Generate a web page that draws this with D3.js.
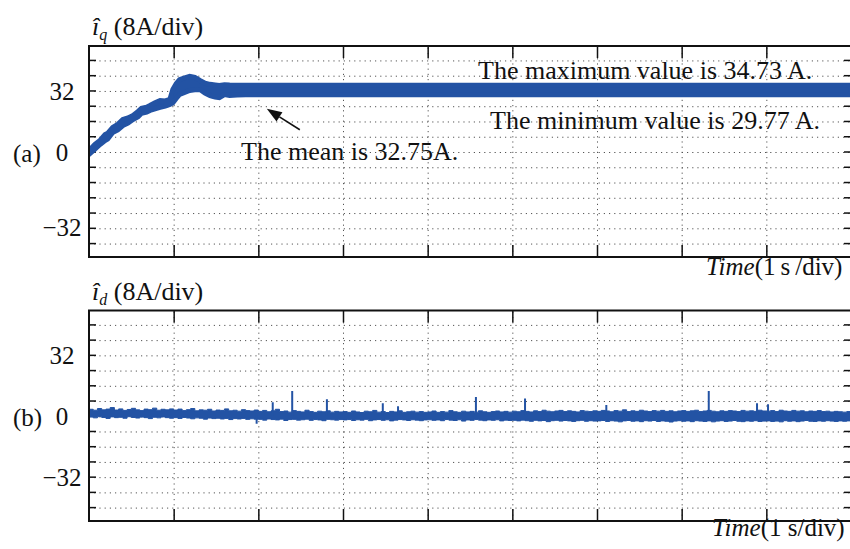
<!DOCTYPE html>
<html>
<head>
<meta charset="utf-8">
<script src="https://cdn.jsdelivr.net/npm/d3@7/dist/d3.min.js"></script>
<style>
  html, body { margin: 0; padding: 0; background: #fff; }
  svg { display: block; }
  text { font-family: "Liberation Serif", "Times New Roman", serif; fill: #111; }
</style>
</head>
<body>
<svg id="chart" width="850" height="549"></svg>
<script>
// ---- data -------------------------------------------------------------
// time axis (s), one division per second
const timeTicks = [0, 1, 2, 3, 4, 5, 6, 7, 8, 9];
// y tick labels (A) and dotted grid levels (8 A/div)
const yTickLabels = [32, 0, -32];
const gridLevels = [-48, -40, -32, -24, -16, -8, 0, 8, 16, 24, 32, 40, 48];

// q-axis current: start-up envelope (A)
const iqTime  = [0, 0.07, 0.13, 0.19, 0.22, 0.28, 0.34, 0.40, 0.46, 0.52, 0.58, 0.62, 0.68, 0.72, 0.78, 0.84, 0.90, 0.955, 0.99, 1.03, 1.07, 1.13, 1.19, 1.25, 1.31, 1.37, 1.43, 1.49, 1.54, 1.60, 1.66, 1.75, 1.85];
const iqUpper = [0.5, 3.7, 5.8, 8.9, 9.5, 12.6, 14.2, 16.8, 17.6, 18.9, 21.0, 22.6, 23.2, 24.1, 25.6, 26.7, 26.5, 27.3, 32.5, 35.5, 37.7, 38.6, 39.4, 38.9, 37.3, 35.8, 35.2, 34.9, 34.6, 35.0, 34.8, 34.7, 34.73];
const iqLower = [-1.5, 1.3, 3.7, 5.8, 6.5, 10.0, 11.3, 13.6, 14.9, 16.8, 18.2, 20.0, 20.6, 21.5, 22.4, 23.1, 23.8, 24.6, 25.5, 27.8, 29.9, 31.0, 32.0, 32.3, 32.5, 30.6, 29.3, 28.6, 28.2, 29.8, 29.4, 29.6, 29.77];
// steady-state statistics (A)
const iqMax = 34.73;
const iqMin = 29.77;
const iqMean = 32.75;

// d-axis current: noise envelope sampled every 0.05 s (A), one row per second
const idStep = 0.05;
const idUpper = [
  3.4, 2.9, 3.8, 3.1, 3.5, 4.3, 3.0, 3.6, 2.8, 3.3, 3.9, 3.1, 2.7, 3.5, 3.2, 4.0, 2.9, 3.4, 3.1, 3.6,
  3.0, 3.5, 2.7, 3.2, 3.8, 2.6, 3.1, 2.9, 3.4, 2.5, 3.0, 2.8, 3.6, 2.6, 2.9, 2.4, 3.2, 2.7, 2.5, 3.0,
  2.3, 2.8, 2.1, 2.6, 3.4, 2.2, 2.5, 1.9, 2.7, 2.3, 2.0, 2.9, 2.2, 1.8, 2.4, 2.1, 2.6, 1.9, 2.3, 2.0,
  2.2, 1.8, 2.5, 2.0, 1.7, 2.4, 2.1, 2.8, 1.9, 2.2, 1.7, 2.3, 2.0, 2.6, 1.8, 2.1, 2.4, 1.9, 2.2, 1.8,
  2.0, 2.5, 1.8, 2.2, 1.9, 2.7, 2.1, 1.8, 2.4, 2.0, 2.3, 1.9, 2.6, 2.1, 1.8, 2.2, 2.5, 2.0, 2.3, 1.9,
  2.4, 2.1, 2.7, 2.3, 2.0, 2.6, 2.2, 2.9, 2.4, 2.1, 2.5, 2.8, 2.2, 2.6, 2.3, 2.0, 2.7, 2.4, 2.2, 2.6,
  2.3, 2.8, 2.5, 2.1, 2.7, 2.4, 3.1, 2.2, 2.6, 2.3, 2.9, 2.5, 2.2, 2.7, 2.4, 2.8, 2.3, 2.6, 2.1, 2.5,
  2.7, 2.3, 2.6, 2.9, 2.2, 2.5, 2.8, 2.4, 2.1, 2.6, 2.3, 2.7, 2.5, 2.2, 2.8, 2.4, 2.6, 2.3, 2.9, 2.5,
  2.4, 2.7, 2.2, 2.9, 2.5, 2.3, 2.8, 2.4, 2.6, 2.1, 2.5, 2.3, 2.7, 2.2, 2.4, 2.0, 2.3, 2.1, 1.9, 2.2,
  2.0
];
const idLower = [
  -0.7, -1.1, -0.5, -0.9, -1.4, -0.6, -1.0, -0.8, -1.3, -0.5, -0.9, -1.2, -0.7, -1.0, -1.5, -0.8, -1.1, -0.6, -1.0, -1.3,
  -1.0, -1.4, -0.9, -1.2, -1.6, -1.1, -1.3, -1.8, -1.2, -1.5, -1.3, -1.7, -1.4, -2.0, -1.5, -1.7, -1.4, -1.9, -1.6, -1.8,
  -1.9, -2.3, -1.7, -2.0, -2.2, -1.8, -2.5, -2.0, -1.9, -2.3, -2.1, -1.8, -2.4, -2.0, -2.2, -2.6, -1.9, -2.1, -2.3, -2.0,
  -2.2, -2.0, -2.5, -2.1, -2.3, -1.9, -2.6, -2.2, -2.0, -2.4, -2.1, -2.7, -2.3, -2.0, -2.2, -2.5, -2.1, -2.3, -2.6, -2.2,
  -2.1, -2.4, -2.2, -2.6, -2.0, -2.3, -2.5, -2.1, -2.8, -2.2, -2.4, -2.0, -2.3, -2.6, -2.2, -2.4, -2.1, -2.7, -2.3, -2.5,
  -2.4, -2.7, -2.3, -2.6, -2.9, -2.4, -2.7, -2.5, -3.1, -2.6, -2.4, -2.8, -2.5, -2.7, -3.0, -2.6, -2.4, -2.9, -2.6, -2.8,
  -2.7, -2.5, -3.0, -2.6, -2.8, -3.2, -2.7, -2.5, -2.9, -2.7, -3.1, -2.6, -2.8, -2.5, -3.0, -2.7, -2.9, -3.3, -2.8, -2.6,
  -2.9, -2.7, -3.1, -2.6, -2.8, -3.0, -2.7, -3.2, -2.8, -2.6, -3.0, -2.8, -2.5, -2.9, -3.1, -2.7, -2.9, -2.6, -3.0, -2.8,
  -2.7, -3.0, -2.8, -3.2, -2.6, -2.9, -2.7, -3.1, -2.8, -2.5, -2.9, -3.0, -2.7, -2.9, -2.6, -2.8, -3.0, -2.7, -2.9, -2.7,
  -2.6
];
// isolated spikes on the d-axis current: time (s) and peak (A)
const idSpikeTime = [1.98, 2.17, 2.40, 2.81, 3.47, 3.65, 4.57, 5.15, 6.11, 7.32, 7.89, 8.02];
const idSpikePeak = [-4.2, 7.1, 13.0, 8.7, 6.6, 5.0, 9.8, 9.0, 5.6, 13.0, 6.6, 6.0];

// ---- layout -----------------------------------------------------------
const W = 850, H = 549;
const left = 89, right = 851;
const yHalf = 55.3;                 // half-range of each panel (A)
const trace = "#2353a4";
const fontSize = 25;

const svg = d3.select("#chart");
svg.append("rect").attr("width", W).attr("height", H).attr("fill", "#fff");

const x = d3.scaleLinear().domain([0, 9]).range([left, right]);

const panels = [
  { key: "a", top: 46,    bottom: 257, sub: "q", tag: "(a)", labelNudge: { [-32]: 14 }, timeY: 275, timeX: 706, timeText: "(1\u2009s\u2009/div)" },
  { key: "b", top: 310.5, bottom: 521, sub: "d", tag: "(b)", labelNudge: {},            timeY: 536, timeX: 712, timeText: "(1 s/div)" }
];

panels.forEach(p => {
  p.y = d3.scaleLinear().domain([-yHalf, yHalf]).range([p.bottom, p.top]);
  const g = svg.append("g").attr("class", "panel-" + p.key);
  p.g = g;

  const clipId = "clip-" + p.key;
  svg.append("clipPath").attr("id", clipId)
    .append("rect").attr("x", left).attr("y", p.top).attr("width", right - left).attr("height", p.bottom - p.top);
  p.clip = "url(#" + clipId + ")";

  // dotted horizontal grid
  const hGrid = g.append("g").attr("transform", `translate(${left},0)`)
    .call(d3.axisLeft(p.y).tickValues(gridLevels).tickSize(-(right - left)).tickFormat(""));
  hGrid.select(".domain").remove();
  hGrid.selectAll("line").attr("stroke", "#555").attr("stroke-width", 1)
    .attr("stroke-dasharray", "1.2,4").attr("transform", "translate(0,0.5)");

  // dotted vertical grid
  const vGrid = g.append("g").attr("transform", `translate(0,${p.bottom})`)
    .call(d3.axisBottom(x).tickValues(timeTicks.slice(1, -1)).tickSize(-(p.bottom - p.top)).tickFormat(""));
  vGrid.select(".domain").remove();
  vGrid.selectAll("line").attr("stroke", "#555").attr("stroke-width", 1)
    .attr("stroke-dasharray", "1.2,4");

  // inner tick marks on all four sides
  const tl = g.append("g").attr("transform", `translate(${left},0)`)
    .call(d3.axisLeft(p.y).tickValues(gridLevels).tickSize(-7).tickFormat(""));
  const tr = g.append("g").attr("transform", `translate(${right},0)`)
    .call(d3.axisRight(p.y).tickValues(gridLevels).tickSize(-7).tickFormat(""));
  const tt = g.append("g").attr("transform", `translate(0,${p.top})`)
    .call(d3.axisTop(x).tickValues(timeTicks.slice(1, -1)).tickSize(-12).tickFormat(""));
  const tb = g.append("g").attr("transform", `translate(0,${p.bottom})`)
    .call(d3.axisBottom(x).tickValues(timeTicks.slice(1, -1)).tickSize(-12).tickFormat(""));
  [tl, tr, tt, tb].forEach(a => {
    a.select(".domain").remove();
    a.selectAll("line").attr("stroke", "#111").attr("stroke-width", 1.5);
  });

  // y tick labels
  const yl = g.append("g").attr("transform", `translate(${left},0)`)
    .call(d3.axisLeft(p.y).tickValues(yTickLabels).tickSize(0).tickFormat(d3.format("d")));
  yl.select(".domain").remove();
  yl.selectAll("text")
    .attr("x", 62 - left)
    .attr("text-anchor", "middle")
    .attr("dy", "0.35em")
    .attr("transform", d => `translate(0,${p.labelNudge[d] || 0})`)
    .style("font-family", "'Liberation Serif', serif")
    .style("font-size", fontSize + "px")
    .attr("fill", "#111");

  // panel tag
  g.append("text").attr("x", 13).attr("y", p.y(0) + 1.5).attr("dy", "0.35em")
    .style("font-size", fontSize + "px").text(p.tag);

  // channel title  î_q / î_d (8A/div)
  const title = g.append("text").attr("x", 92).attr("y", p.top - 11).style("font-size", "26px");
  title.append("tspan").style("font-style", "italic").text("\u00ee");
  title.append("tspan").style("font-style", "italic").style("font-size", "16px").attr("dy", 5).text(p.sub);
  title.append("tspan").attr("dy", -5).text(" (8A/div)");

  // time label
  const tx = g.append("text").attr("x", p.timeX).attr("y", p.timeY).style("font-size", fontSize + "px");
  tx.append("tspan").style("font-style", "italic").text("Time");
  tx.append("tspan").text(p.timeText);
});

// ---- panel (a): q-axis current ---------------------------------------
{
  const p = panels[0];
  const rows = iqTime.map((t, i) => ({ t, hi: iqUpper[i], lo: iqLower[i] }));
  rows.push({ t: 9, hi: iqMax, lo: iqMin });
  const area = d3.area().x(d => x(d.t)).y0(d => p.y(d.lo)).y1(d => p.y(d.hi));
  p.g.append("path").datum(rows).attr("clip-path", p.clip)
    .attr("d", area).attr("fill", trace).attr("stroke", trace)
    .attr("stroke-width", 5).attr("stroke-linejoin", "miter");

  const ann = p.g.append("g").style("font-size", "26px");
  ann.append("text").attr("x", 478).attr("y", 79).text(`The maximum value is ${iqMax.toFixed(2)} A.`);
  ann.append("text").attr("x", 490).attr("y", 129).text(`The minimum value is ${iqMin.toFixed(2)} A.`);
  ann.append("text").attr("x", 241).attr("y", 160).text(`The mean is ${iqMean.toFixed(2)}A.`);

  // arrow pointing at the steady band
  const tip = [x(2.10), p.y(22.4)], tail = [x(2.49), p.y(11.4)];
  const ang = Math.atan2(tip[1] - tail[1], tip[0] - tail[0]);
  const hl = 15, hw = 5.5;
  const base = [tip[0] - hl * Math.cos(ang), tip[1] - hl * Math.sin(ang)];
  p.g.append("line").attr("x1", tail[0]).attr("y1", tail[1]).attr("x2", base[0]).attr("y2", base[1])
    .attr("stroke", "#111").attr("stroke-width", 1.6);
  p.g.append("polygon").attr("fill", "#111").attr("points", [
    tip,
    [base[0] + hw * Math.sin(ang), base[1] - hw * Math.cos(ang)],
    [base[0] - hw * Math.sin(ang), base[1] + hw * Math.cos(ang)]
  ].map(q => q.join(",")).join(" "));
}

// ---- panel (b): d-axis current ---------------------------------------
{
  const p = panels[1];
  const rows = idUpper.map((hi, i) => ({ t: i * idStep, hi, lo: idLower[i] }));
  const area = d3.area().curve(d3.curveStepAfter)
    .x(d => x(d.t)).y0(d => p.y(d.lo)).y1(d => p.y(d.hi));
  p.g.append("path").datum(rows).attr("clip-path", p.clip)
    .attr("d", area).attr("fill", trace).attr("stroke", trace).attr("stroke-width", 1);
  p.g.append("g").attr("clip-path", p.clip).selectAll("line")
    .data(idSpikeTime.map((t, i) => ({ t, v: idSpikePeak[i] })))
    .join("line")
    .attr("x1", d => x(d.t)).attr("x2", d => x(d.t))
    .attr("y1", p.y(0)).attr("y2", d => p.y(d.v))
    .attr("stroke", trace).attr("stroke-width", 2);
}

// ---- frames (left, top, bottom edges) --------------------------------
panels.forEach(p => {
  p.g.append("path")
    .attr("d", `M${right},${p.top}H${left}V${p.bottom}H${right}`)
    .attr("fill", "none").attr("stroke", "#111").attr("stroke-width", 2);
});
</script>
</body>
</html>
